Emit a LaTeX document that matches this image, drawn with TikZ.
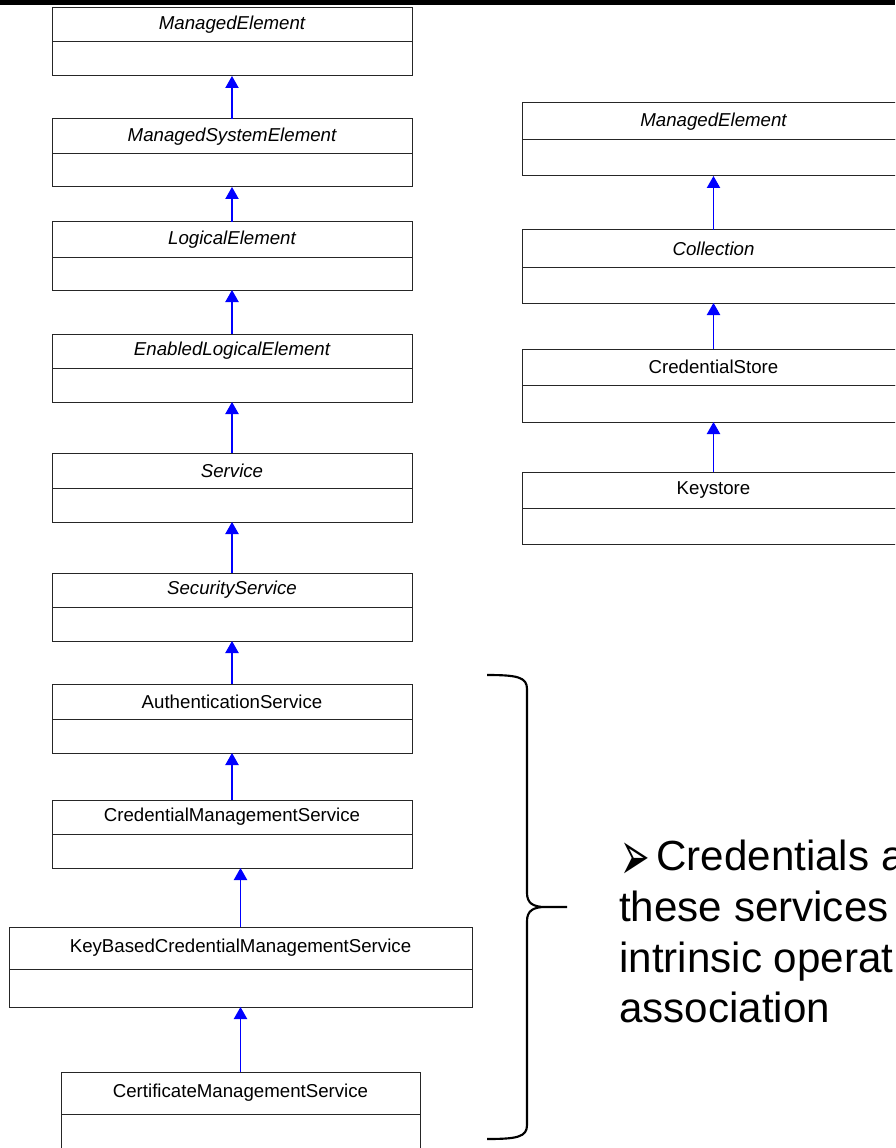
\documentclass[tikz,border=0pt]{standalone}
\usepackage{fontspec}
\usepackage{graphicx}
\setmainfont{Liberation Sans}
\newfontfamily\dejavu{DejaVu Sans}
\usetikzlibrary{arrows.meta}

% one unit = one pixel of the 895 x 1148 sheet, y grows downward
\tikzset{
  x=0.75pt, y=-0.75pt,
  headbox/.style={draw=black!85, line width=0.75pt, fill=white, inner sep=0pt, outer sep=0pt,
                  font=\fontsize{14pt}{16pt}\selectfont},
  bodybox/.style={draw=black!85, line width=0.75pt, fill=white, inner sep=0pt, outer sep=0pt},
  inherit/.style={draw=blue, line width=0.8pt,
                  -{Triangle[width=10pt,length=9pt]}},
  bigtext/.style={inner sep=0pt, font=\fontsize{31.6pt}{38pt}\selectfont},
  brace/.style={draw=black, line width=1.6pt},
}

% class box: name, left, right, top, divider, bottom, label
\newcommand\umlclass[7]{%
  \pgfmathsetlengthmacro\clsw{(#3-#2)*0.75pt}%
  \pgfmathsetlengthmacro\clsh{(#5-#4)*0.75pt}%
  \pgfmathsetlengthmacro\clsb{(#6-#5)*0.75pt}%
  \node[headbox, minimum width=\clsw, minimum height=\clsh, anchor=north west] (#1) at (#2,#4) {#7};
  \node[bodybox, minimum width=\clsw, minimum height=\clsb, anchor=north west] (#1-b) at (#2,#5) {};
}

\begin{document}
\begin{tikzpicture}
\useasboundingbox (0,0) rectangle (895,1148);
\clip (0,0) rectangle (895,1148);

% top rule
\fill[black] (0,0) rectangle (895,5);

% left hierarchy
\umlclass{me}{52}{412}{8}{42}{76}{\itshape ManagedElement}
\umlclass{mse}{52}{412}{119}{154}{187}{\itshape ManagedSystemElement}
\umlclass{le}{52}{412}{222}{257}{290}{\itshape LogicalElement}
\umlclass{ele}{52}{412}{334}{368}{402}{\itshape EnabledLogicalElement}
\umlclass{svc}{52}{412}{453}{488}{522}{\itshape Service}
\umlclass{sec}{52}{412}{573}{607}{641}{\itshape SecurityService}
\umlclass{auth}{52}{412}{684}{719}{753}{AuthenticationService}
\umlclass{cms}{52}{412}{800}{834}{868}{CredentialManagementService}
\umlclass{kb}{9}{472}{927}{969}{1007}{KeyBasedCredentialManagementService}
\umlclass{cert}{61}{420}{1072}{1114}{1160}{CertificateManagementService}

\draw[inherit] (mse.north) -- (mse.north |- me-b.south);
\draw[inherit] (le.north) -- (le.north |- mse-b.south);
\draw[inherit] (ele.north) -- (ele.north |- le-b.south);
\draw[inherit] (svc.north) -- (svc.north |- ele-b.south);
\draw[inherit] (sec.north) -- (sec.north |- svc-b.south);
\draw[inherit] (auth.north) -- (auth.north |- sec-b.south);
\draw[inherit] (cms.north) -- (cms.north |- auth-b.south);
\draw[inherit] (kb.north) -- (kb.north |- cms-b.south);
\draw[inherit] (cert.north) -- (cert.north |- kb-b.south);

% right hierarchy
\umlclass{meR}{522}{905}{103}{140}{176}{\itshape ManagedElement}
\umlclass{col}{522}{905}{230}{267}{303}{\itshape Collection}
\umlclass{cs}{522}{905}{349}{385}{422}{CredentialStore}
\umlclass{ks}{522}{905}{472}{508}{544}{Keystore}

\draw[inherit] (col.north) -- (col.north |- meR-b.south);
\draw[inherit] (cs.north) -- (cs.north |- col-b.south);
\draw[inherit] (ks.north) -- (ks.north |- cs-b.south);

% brace grouping the credential services
\coordinate (brTop) at (487,675);
\coordinate (brTip) at (567,907);
\coordinate (brBot) at (487,1139);
\draw[brace] (brTop) .. controls (517,675) and (527,677) .. (527,689)
  -- (527,893) .. controls (527,903) and (533,907) .. (545,907) -- (brTip)
  (545,907) .. controls (533,907) and (527,911) .. (527,921)
  -- (527,1125) .. controls (527,1137) and (517,1139) .. (brBot);

% note text
\node[bigtext, anchor=base west] (bullet) at (620,880)
  {\raisebox{0pt}[\height][0pt]{\scalebox{1.15}[2.3]{\dejavu\fontsize{23pt}{23pt}\selectfont ➢}}};
\node[bigtext, anchor=base west] (l1) at (656,870) {Credentials a};
\node[bigtext, anchor=base west] (l2) at (619,921) {these services};
\node[bigtext, anchor=base west] (l3) at (619,972) {intrinsic operat};
\node[bigtext, anchor=base west] (l4) at (619,1022) {association};
\end{tikzpicture}
\end{document}
